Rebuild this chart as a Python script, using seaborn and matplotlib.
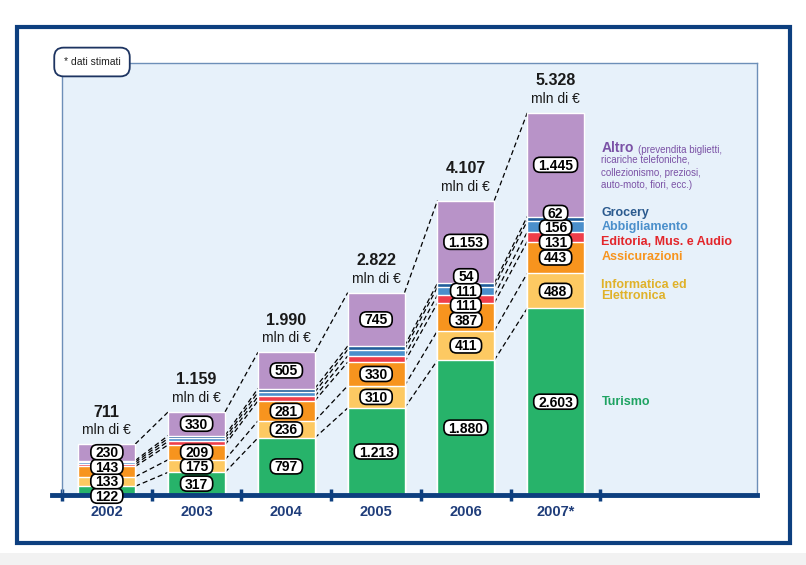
import numpy as np
import matplotlib.pyplot as plt
import seaborn as sns
from matplotlib.patches import Rectangle, FancyBboxPatch

plt.rcParams['font.family'] = ['Liberation Sans', 'DejaVu Sans']

# valori in mln di euro, dal basso verso l'alto
years = ["2002", "2003", "2004", "2005", "2006", "2007*"]
turismo = [122, 317, 797, 1213, 1880, 2603]
informatica = [133, 175, 236, 310, 411, 488]
assicurazioni = [143, 209, 281, 330, 387, 443]
editoria = [30, 48, 60, 86, 111, 131]
abbigliamento = [28, 42, 60, 88, 111, 156]
grocery = [25, 38, 51, 50, 54, 62]
altro = [230, 330, 505, 745, 1153, 1445]
show_small = [False, False, False, False, True, True]

names = ["Turismo", "Informatica ed\nElettronica", "Assicurazioni",
         "Editoria, Mus. e Audio", "Abbigliamento", "Grocery", "Altro"]
bar_colors = ["#27b36a", "#fdc962", "#f7941e", "#ef3e4a", "#4b8fcb", "#1f5c99", "#b893c8"]
text_colors = ["#1fa362", "#e0b22a", "#f7941e", "#e3262b", "#4a8fcb", "#2b5a8e", "#7b52a6"]
navy = "#0d3f7f"

vals = np.array([turismo, informatica, assicurazioni, editoria, abbigliamento, grocery, altro])
cum = np.cumsum(vals, axis=0)
small = (3, 4, 5)


def fmt(v):
    return f"{int(v):,}".replace(",", ".")


def spread(centers, gap):
    # sposta le etichette che si sovrappongono mantenendo il baricentro
    groups = []
    for c in centers:
        groups.append([c])
        while len(groups) > 1:
            g1, g2 = groups[-2], groups[-1]
            top1 = np.mean(g1) + (len(g1) - 1) * gap / 2
            bot2 = np.mean(g2) - (len(g2) - 1) * gap / 2
            if bot2 - top1 < gap:
                groups[-2:] = [g1 + g2]
            else:
                break
    out = []
    for g in groups:
        start = np.mean(g) - (len(g) - 1) * gap / 2
        out += [start + j * gap for j in range(len(g))]
    return out


fig = plt.figure(figsize=(8.06, 5.65), dpi=100)
ax = fig.add_axes([62 / 806, 70 / 565, 695 / 806, 432 / 565])
xlim = (-0.478, 7.244)
ymax = 6025
px = ymax / 432                        # unita' y per pixel
pxx = (xlim[1] - xlim[0]) / 695        # unita' x per pixel
renderer = fig.canvas.get_renderer()

bw = 0.633
for k in reversed(range(len(names))):
    sns.barplot(x=years, y=cum[k], color=bar_colors[k], saturation=1, width=bw,
                edgecolor='white', linewidth=1, errorbar=None, ax=ax, zorder=2)
ax.set_xlim(*xlim)
ax.set_ylim(0, ymax)

# linee tratteggiate tra le colonne
for k in range(len(names)):
    for i in range(len(years) - 1):
        ax.plot([i + bw / 2, i + 1 - bw / 2], [cum[k][i], cum[k][i + 1]],
                color='black', lw=0.9, ls=(0, (4, 2.5)), zorder=1)

last_pos = {}
for i in range(len(years)):
    keys = [k for k in range(len(names)) if k not in small or show_small[i]]
    centers = [cum[k][i] - vals[k][i] / 2 for k in keys]
    ys = spread(centers, 14.5 * px)
    for k, y in zip(keys, ys):
        t = ax.annotate(fmt(vals[k][i]), xy=(i, y), xytext=(0, -5), textcoords='offset pixels',
                        ha='center', va='baseline', fontsize=10, fontweight='bold', zorder=9,
                        annotation_clip=False)
        w = (t.get_window_extent(renderer).width + 9) * pxx
        h = 15 * px
        ax.add_patch(FancyBboxPatch((i - w / 2, y - h / 2), w, h,
                                    boxstyle=f"round,pad=0,rounding_size={6.5 * pxx}",
                                    mutation_aspect=px / pxx, fc='white', ec='black',
                                    lw=1.2, zorder=8, clip_on=False))
        if i == len(years) - 1:
            last_pos[k] = y
    ax.annotate("mln di €", xy=(i, cum[-1][i]), xytext=(0, 14), textcoords='offset pixels',
                ha='center', va='center', fontsize=10, color='#1a1a1a')
    ax.annotate(fmt(cum[-1][i]), xy=(i, cum[-1][i]), xytext=(0, 32), textcoords='offset pixels',
                ha='center', va='center', fontsize=11.5, fontweight='bold', color='#1a1a1a')

# legenda a destra
xl = len(years) - 1 + 0.51
for k in range(len(names) - 1):
    ax.text(xl, last_pos[k], names[k], ha='left', va='center', fontsize=9,
            fontweight='bold', color=text_colors[k], linespacing=0.9)
t = ax.annotate("Altro", xy=(xl, last_pos[6]), xytext=(0, 13), textcoords='offset pixels',
                ha='left', va='baseline', fontsize=10, fontweight='bold', color=text_colors[6])
ax.annotate("(prevendita biglietti,", xy=(1, 0), xycoords=t, xytext=(3, 0),
            textcoords='offset points', ha='left', va='bottom', fontsize=7, color=text_colors[6])
ax.annotate("ricariche telefoniche,\ncollezionismo, preziosi,\nauto-moto, fiori, ecc.)",
            xy=(xl, last_pos[6]), xytext=(0, 10), textcoords='offset pixels',
            ha='left', va='top', fontsize=7, color=text_colors[6], linespacing=1.35)

ax.set_facecolor('#e7f1fa')
ax.set_xlabel('')
ax.set_ylabel('')
ax.set_yticks([])
for s in ('left', 'top', 'right'):
    ax.spines[s].set_color('#6d8fb8')
    ax.spines[s].set_linewidth(1)
ax.spines['bottom'].set_visible(False)
ax.axhline(0, xmin=-10 / 695, xmax=1, color=navy, lw=3.5, clip_on=False, zorder=6)
ax.set_xticks(range(len(years)))
ax.set_xticklabels(years, fontweight='bold', color='#1f3d7a', fontsize=10.5)
ax.set_xticks(np.arange(-0.5, len(years)), minor=True)
ax.tick_params(axis='x', which='major', length=0, pad=7)
ax.tick_params(axis='x', which='minor', direction='inout', length=9, width=2.5, color=navy)

# cornice e nota
fig.add_artist(Rectangle((17 / 806, 22 / 565), 773 / 806, 516 / 565, transform=fig.transFigure,
                         fill=False, ec=navy, lw=3))
fig.add_artist(Rectangle((0, 0), 1, 12 / 565, transform=fig.transFigure, fc='#f2f2f2', ec='none'))
fig.text(92 / 806, (565 - 62) / 565, "* dati stimati", ha='center', va='center', fontsize=7.5,
         color='#222222', bbox=dict(boxstyle='round,pad=0.9,rounding_size=0.9', fc='white',
                                    ec='#1d3461', lw=1.3))

fig.savefig('out.png', dpi=100)
